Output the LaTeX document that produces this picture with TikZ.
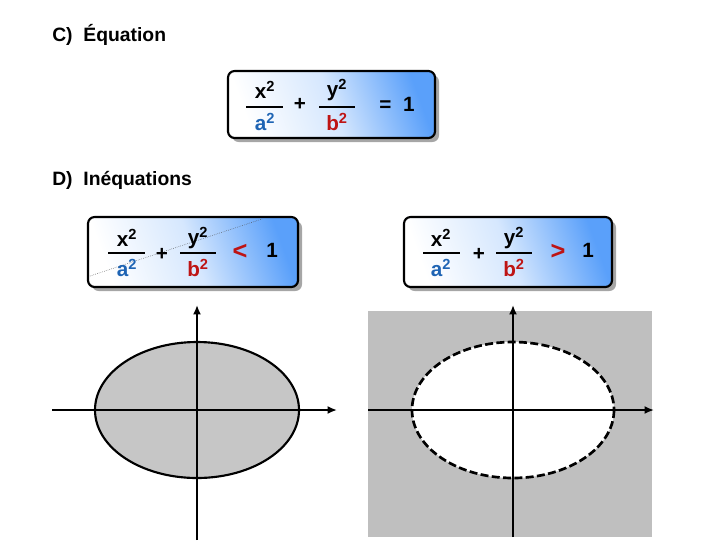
\documentclass[tikz,border=0pt]{standalone}
\usepackage{fontspec}
\setmainfont{Liberation Sans}
\usetikzlibrary{arrows.meta}
\definecolor{ablue}{RGB}{30,100,180}
\definecolor{bred}{RGB}{190,20,20}
\definecolor{boxblue}{RGB}{90,160,250}
\newcommand{\sq}{\textsuperscript{\fontsize{11}{12}\selectfont 2}}
\begin{document}
\begin{tikzpicture}[x=0.75pt,y=-0.75pt,
  eqbox/.style={draw=black,line width=1.6pt,rounded corners=5pt,left color=white,right color=boxblue,middle color=white!75!boxblue,shading angle=110},
  shadowbox/.style={fill=gray!70,rounded corners=5pt},
  txt/.style={font=\bfseries\fontsize{15.5}{18}\selectfont,inner sep=0pt},
  head/.style={font=\bfseries\fontsize{14.5}{16}\selectfont,anchor=west,inner sep=0pt},
  bar/.style={line width=1.8pt},
  axis/.style={line width=1.6pt,-{Latex[length=7pt,width=6pt]}}]
\useasboundingbox (0,0) rectangle (720,540);
\node[head] (hc) at (52,35) {C)\ \ Équation};
\node[head] (hd) at (52,180) {D)\ \ Inéquations};
% boxes
\fill[shadowbox] (232,75) rectangle (439,142);
\shade[eqbox] (228,71) rectangle (435,138);
\fill[shadowbox] (92,221) rectangle (302,291);
\shade[eqbox] (88,217) rectangle (298,287);
\draw[densely dotted,gray!60!black,thin] (90,276) -- (262,219);
\fill[shadowbox] (408,221) rectangle (616,291);
\shade[eqbox] (404,217) rectangle (612,287);
% equation
\node[txt] (x1) at (265,90) {x\sq};
\draw[bar] (246,107) -- (283,107);
\node[txt,text=ablue] (a1) at (265,122) {a\sq};
\node[txt] (p1) at (300,104) {+};
\node[txt] (y1) at (337,90) {y\sq};
\draw[bar] (319,107) -- (355,107);
\node[txt,text=bred] (b1) at (337,122) {b\sq};
\node[txt] (e1) at (397,104) {=\ \ 1};
% left ineq
\node[txt] (x2) at (127,238) {x\sq};
\draw[bar] (108,253) -- (145,253);
\node[txt,text=ablue] (a2) at (127,268) {a\sq};
\node[txt] (p2) at (162,254) {+};
\node[txt] (y2) at (198,238) {y\sq};
\draw[bar] (180,253) -- (216,253);
\node[txt,text=bred] (b2) at (198,268) {b\sq};
\node[txt,text=bred,font=\bfseries\fontsize{19}{20}\selectfont] (l2) at (240,252) {<};
\node[txt] (o2) at (272,250) {1};
% right ineq
\node[txt] (x3) at (441,238) {x\sq};
\draw[bar] (423,253) -- (460,253);
\node[txt,text=ablue] (a3) at (441,268) {a\sq};
\node[txt] (p3) at (479,254) {+};
\node[txt] (y3) at (514,238) {y\sq};
\draw[bar] (496,253) -- (532,253);
\node[txt,text=bred] (b3) at (514,268) {b\sq};
\node[txt,text=bred,font=\bfseries\fontsize{19}{20}\selectfont] (g3) at (558,252) {>};
\node[txt] (o3) at (588,250) {1};
% left graph
\filldraw[fill=gray!45,draw=black,line width=1.6pt] (197,410) ellipse [x radius=102,y radius=68];
\coordinate (lb) at (197,540); \coordinate (lt) at (197,305);
\coordinate (ll) at (52,410); \coordinate (lr) at (337,410);
\draw[axis] (lb) -- (lt);
\draw[axis] (ll) -- (lr);
% right graph
\fill[gray!50] (368,311) rectangle (652,537);
\filldraw[fill=white,draw=black,line width=2pt,dash pattern=on 6pt off 2.5pt] (513,410) ellipse [x radius=101,y radius=68];
\coordinate (rb) at (513,537); \coordinate (rt) at (513,305);
\coordinate (rl) at (368,410); \coordinate (rr) at (654,410);
\draw[axis] (rb) -- (rt);
\draw[axis] (rl) -- (rr);
\end{tikzpicture}
\end{document}
